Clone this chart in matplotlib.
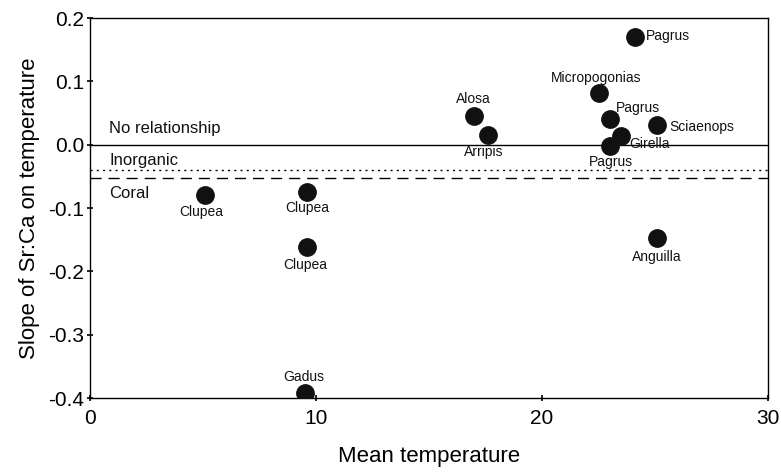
import matplotlib
matplotlib.use("Agg")
import matplotlib.pyplot as plt

plt.rcParams['font.family'] = ['Liberation Sans', 'DejaVu Sans']

genera = ["Pagrus", "Micropogonias", "Alosa", "Arripis", "Pagrus", "Sciaenops",
          "Girella", "Pagrus", "Clupea", "Clupea", "Clupea", "Anguilla", "Gadus"]
temp = [24.1, 22.5, 17.0, 17.6, 23.0, 25.1, 23.5, 23.0, 5.1, 9.6, 9.6, 25.1, 9.5]
slope = [0.170, 0.082, 0.045, 0.016, 0.041, 0.031, 0.013, -0.002,
         -0.079, -0.075, -0.162, -0.147, -0.392]

ref_names = ["No relationship", "Inorganic", "Coral"]
ref_values = [0.0, -0.040, -0.052]

# label offsets in pixels (style only)
offsets = [(11, 1, 'left'), (-2, 15, 'center'), (-1, 17, 'center'), (-4, -17, 'center'),
           (6, 11, 'left'), (12, -2, 'left'), (8, -8, 'left'), (1, -16, 'center'),
           (-4, -17, 'center'), (0, -16, 'center'), (-2, -18, 'center'),
           (0, -19, 'center'), (-1, 16, 'center')]

fig = plt.figure(figsize=(7.81, 4.72), dpi=100)
ax = fig.add_axes([90/781, 1-398/472, 678/781, 380/472])

ax.axhline(ref_values[0], color='black', lw=1.0, ls='-')
ax.axhline(ref_values[1], color='black', lw=1.0, ls=(0, (1.5, 3)))
ax.axhline(ref_values[2], color='black', lw=1.0, ls=(0, (8, 5)))

ax.plot(temp, slope, 'o', color='#111111', markersize=12.5, zorder=3)

for g, x, y, (dx, dy, ha) in zip(genera, temp, slope, offsets):
    ax.annotate(g, (x, y), xytext=(dx, dy), textcoords='offset pixels',
                ha=ha, va='center', fontsize=10, color='#111111')

label_y = [0.026, -0.025, -0.077]
for name, ly in zip(ref_names, label_y):
    ax.text(0.85, ly, name, fontsize=12, ha='left', va='center', color='#111111')

ax.set_xlim(0, 30)
ax.set_ylim(-0.4, 0.2)
ax.set_xticks([0, 10, 20, 30])
ax.set_yticks([-0.4, -0.3, -0.2, -0.1, 0.0, 0.1, 0.2])
ax.set_yticklabels(["-0.4", "-0.3", "-0.2", "-0.1", "0.0", "0.1", "0.2"])
ax.tick_params(direction='inout', length=4, width=1.2, labelsize=15, pad=2)
ax.tick_params(axis='x', pad=6)
for s in ax.spines.values():
    s.set_linewidth(1.0)

ax.set_xlabel("Mean temperature", fontsize=16, labelpad=13)
ax.set_ylabel("Slope of Sr:Ca on temperature", fontsize=16, labelpad=6)

fig.savefig("out.png", dpi=100)
